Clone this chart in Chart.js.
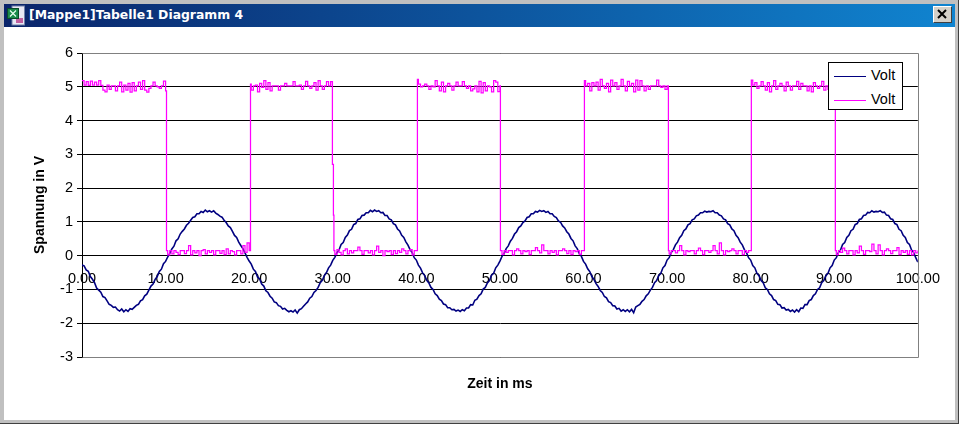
<!DOCTYPE html>
<html>
<head>
<meta charset="utf-8">
<title>Diagramm 4</title>
<script src="https://cdn.jsdelivr.net/npm/chart.js@4"></script>
<style>
  html, body { margin: 0; padding: 0; background: #c0c0c0; overflow: hidden; }
  #win { position: relative; width: 959px; height: 424px; background: #c0c0c0; box-sizing: border-box;
         border-right: 1px solid #404040; border-bottom: 1px solid #404040; }
  #bar { position: absolute; left: 4px; top: 4px; width: 951px; height: 23px;
         background: linear-gradient(90deg, #0a246a, #1084d0); }
  #bar span { position: absolute; left: 25px; top: 3px; color: #fff; font: bold 12.4px "DejaVu Sans", sans-serif; white-space: nowrap; }
  #icon { position: absolute; left: 2px; top: 0; }
  #close { position: absolute; left: 929px; top: 2px; width: 19px; height: 17px; background: #d4d0c8; box-sizing: border-box;
           border: 1px solid; border-color: #fff #404040 #404040 #fff; }
  #close svg { position: absolute; left: 3px; top: 2px; }
  #plot { position: absolute; left: 4px; top: 27px; width: 951px; height: 393px; background: #fff; }
  canvas { position: absolute; left: 0; top: 0; }
  #legend { position: absolute; left: 824px; top: 35px; width: 75px; height: 48px; background: #fff; border: 1px solid #000; box-sizing: border-box;
            font: 14.5px "Liberation Sans", Arial, sans-serif; color: #000; }
  #legend div { position: absolute; left: 42px; white-space: nowrap; }
  #legend i { position: absolute; left: -37px; top: 9px; width: 32px; height: 1px; }
</style>
</head>
<body>
<div id="win">
  <div id="bar">
    <svg id="icon" width="20" height="22" viewBox="0 0 20 22">
      <rect x="6" y="2" width="12.5" height="19" fill="#e8e8f4" stroke="#7080a8"/>
      <rect x="10" y="14" width="7" height="5" fill="#c060a0"/>
      <rect x="1.5" y="4.5" width="11" height="10" fill="#1a8a4a" stroke="#0a4a2a"/>
      <path d="M4 6.5l6 6M10 6.5l-6 6" stroke="#e8fff0" stroke-width="1.2"/>
    </svg>
    <span>[Mappe1]Tabelle1 Diagramm 4</span>
    <div id="close"><svg width="11" height="11" viewBox="0 0 11 11"><path d="M1 1l8 8M9 1l-8 8" stroke="#000" stroke-width="2"/></svg></div>
  </div>
  <div id="plot">
    <canvas id="graph" width="951" height="393"></canvas>
    <div id="legend"></div>
  </div>
</div>
<script>
const seriesNames = ["Volt", "Volt"];
const xAxisTitle = "Zeit in ms";
const yAxisTitle = "Spannung in V";

// sine channel, read every 0.25 ms
const sineTime = [
  0,0.25,0.5,0.75,1,1.25,1.5,1.75,2,2.25,2.5,2.75,3,3.25,3.5,3.75,4,4.25,4.5,4.75,5,5.25,5.5,5.75,6,6.25,6.5,6.75,7,7.25,7.5,7.75,8,8.25,8.5,8.75,9,9.25,9.5,9.75,
  10,10.25,10.5,10.75,11,11.25,11.5,11.75,12,12.25,12.5,12.75,13,13.25,13.5,13.75,14,14.25,14.5,14.75,15,15.25,15.5,15.75,16,16.25,16.5,16.75,17,17.25,17.5,17.75,18,18.25,18.5,18.75,19,19.25,19.5,19.75,
  20,20.25,20.5,20.75,21,21.25,21.5,21.75,22,22.25,22.5,22.75,23,23.25,23.5,23.75,24,24.25,24.5,24.75,25,25.25,25.5,25.75,26,26.25,26.5,26.75,27,27.25,27.5,27.75,28,28.25,28.5,28.75,29,29.25,29.5,29.75,
  30,30.25,30.5,30.75,31,31.25,31.5,31.75,32,32.25,32.5,32.75,33,33.25,33.5,33.75,34,34.25,34.5,34.75,35,35.25,35.5,35.75,36,36.25,36.5,36.75,37,37.25,37.5,37.75,38,38.25,38.5,38.75,39,39.25,39.5,39.75,
  40,40.25,40.5,40.75,41,41.25,41.5,41.75,42,42.25,42.5,42.75,43,43.25,43.5,43.75,44,44.25,44.5,44.75,45,45.25,45.5,45.75,46,46.25,46.5,46.75,47,47.25,47.5,47.75,48,48.25,48.5,48.75,49,49.25,49.5,49.75,
  50,50.25,50.5,50.75,51,51.25,51.5,51.75,52,52.25,52.5,52.75,53,53.25,53.5,53.75,54,54.25,54.5,54.75,55,55.25,55.5,55.75,56,56.25,56.5,56.75,57,57.25,57.5,57.75,58,58.25,58.5,58.75,59,59.25,59.5,59.75,
  60,60.25,60.5,60.75,61,61.25,61.5,61.75,62,62.25,62.5,62.75,63,63.25,63.5,63.75,64,64.25,64.5,64.75,65,65.25,65.5,65.75,66,66.25,66.5,66.75,67,67.25,67.5,67.75,68,68.25,68.5,68.75,69,69.25,69.5,69.75,
  70,70.25,70.5,70.75,71,71.25,71.5,71.75,72,72.25,72.5,72.75,73,73.25,73.5,73.75,74,74.25,74.5,74.75,75,75.25,75.5,75.75,76,76.25,76.5,76.75,77,77.25,77.5,77.75,78,78.25,78.5,78.75,79,79.25,79.5,79.75,
  80,80.25,80.5,80.75,81,81.25,81.5,81.75,82,82.25,82.5,82.75,83,83.25,83.5,83.75,84,84.25,84.5,84.75,85,85.25,85.5,85.75,86,86.25,86.5,86.75,87,87.25,87.5,87.75,88,88.25,88.5,88.75,89,89.25,89.5,89.75,
  90,90.25,90.5,90.75,91,91.25,91.5,91.75,92,92.25,92.5,92.75,93,93.25,93.5,93.75,94,94.25,94.5,94.75,95,95.25,95.5,95.75,96,96.25,96.5,96.75,97,97.25,97.5,97.75,98,98.25,98.5,98.75,99,99.25,99.5,99.75,100
];
const sineVolt = [
  -0.28,-0.30,-0.42,-0.46,-0.62,-0.70,-0.80,-0.96,-1.02,-1.08,-1.21,-1.24,-1.34,-1.44,-1.47,-1.53,-1.52,-1.60,-1.64,-1.58,-1.66,-1.60,-1.65,-1.57,-1.59,-1.53,-1.47,-1.44,-1.34,-1.30,-1.19,-1.14,-1.02,-0.90,-0.84,-0.70,-0.62,-0.47,-0.40,-0.24,
  -0.17,-0.04,0.07,0.20,0.28,0.44,0.50,0.64,0.72,0.79,0.90,0.96,1.05,1.13,1.15,1.24,1.24,1.31,1.28,1.35,1.30,1.33,1.29,1.33,1.26,1.22,1.17,1.14,1.05,0.98,0.88,0.83,0.72,0.60,0.54,0.40,0.30,0.21,0.08,-0.05,
  -0.16,-0.25,-0.40,-0.47,-0.63,-0.69,-0.84,-0.90,-1.04,-1.09,-1.20,-1.26,-1.37,-1.39,-1.48,-1.50,-1.58,-1.56,-1.62,-1.66,-1.63,-1.67,-1.61,-1.70,-1.60,-1.57,-1.50,-1.43,-1.37,-1.26,-1.21,-1.09,-1.03,-0.94,-0.80,-0.73,-0.59,-0.50,-0.36,-0.28,
  -0.14,-0.05,0.09,0.17,0.33,0.39,0.54,0.61,0.74,0.78,0.92,0.95,1.07,1.09,1.19,1.20,1.27,1.27,1.34,1.30,1.35,1.31,1.33,1.27,1.28,1.19,1.19,1.09,1.06,0.95,0.91,0.79,0.73,0.60,0.54,0.41,0.31,0.18,0.09,-0.06,
  -0.13,-0.28,-0.37,-0.51,-0.59,-0.73,-0.81,-0.94,-1.00,-1.13,-1.18,-1.29,-1.33,-1.43,-1.45,-1.54,-1.54,-1.60,-1.59,-1.64,-1.61,-1.65,-1.60,-1.63,-1.55,-1.55,-1.45,-1.46,-1.32,-1.29,-1.18,-1.13,-0.99,-0.94,-0.81,-0.74,-0.58,-0.52,-0.36,-0.28,
  -0.16,-0.02,0.06,0.21,0.29,0.43,0.51,0.64,0.71,0.83,0.88,0.98,1.03,1.13,1.15,1.24,1.24,1.31,1.29,1.34,1.31,1.33,1.28,1.31,1.24,1.24,1.16,1.13,1.03,0.99,0.88,0.82,0.71,0.64,0.51,0.44,0.29,0.21,0.06,-0.02,
  -0.17,-0.25,-0.39,-0.47,-0.62,-0.70,-0.83,-0.91,-1.03,-1.09,-1.21,-1.25,-1.36,-1.39,-1.48,-1.49,-1.58,-1.56,-1.64,-1.60,-1.65,-1.60,-1.66,-1.59,-1.69,-1.52,-1.48,-1.44,-1.35,-1.30,-1.19,-1.13,-1.02,-0.94,-0.80,-0.74,-0.59,-0.52,-0.36,-0.29,
  -0.13,-0.06,0.09,0.18,0.32,0.40,0.53,0.60,0.74,0.79,0.91,0.95,1.06,1.09,1.18,1.20,1.27,1.27,1.32,1.29,1.31,1.30,1.33,1.27,1.27,1.20,1.18,1.09,1.06,0.95,0.91,0.79,0.74,0.60,0.53,0.40,0.32,0.18,0.09,-0.06,
  -0.13,-0.29,-0.36,-0.52,-0.59,-0.74,-0.80,-0.95,-1.00,-1.13,-1.18,-1.30,-1.33,-1.44,-1.45,-1.55,-1.54,-1.61,-1.59,-1.65,-1.61,-1.67,-1.60,-1.66,-1.55,-1.56,-1.45,-1.45,-1.33,-1.30,-1.18,-1.13,-1.00,-0.95,-0.80,-0.74,-0.59,-0.52,-0.36,-0.29,
  -0.13,-0.06,0.09,0.17,0.33,0.39,0.54,0.60,0.74,0.78,0.92,0.95,1.07,1.09,1.19,1.20,1.28,1.27,1.33,1.29,1.31,1.30,1.33,1.28,1.29,1.20,1.19,1.09,1.07,0.95,0.92,0.78,0.74,0.60,0.54,0.39,0.33,0.17,0.09,-0.06,
  -0.19
];

// square channel, read every 0.25 ms, one line per half period
const squareTime = [
  0,0.25,0.5,0.75,1,1.25,1.5,1.75,2,2.25,2.5,2.75,3,3.25,3.5,3.75,4,4.25,4.5,4.75,5,5.25,5.5,5.75,6,6.25,6.5,6.75,7,7.25,7.5,7.75,8,8.25,8.5,8.75,9,9.25,9.5,9.75,10,
  10.11,10.25,10.5,10.75,11,11.25,11.5,11.75,12,12.25,12.5,12.75,13,13.25,13.5,13.75,14,14.25,14.5,14.75,15,15.25,15.5,15.75,16,16.25,16.5,16.75,17,17.25,17.5,17.75,18,18.25,18.5,18.75,19,19.25,19.5,19.75,20,
  20.16,20.25,20.5,20.75,21,21.25,21.5,21.75,22,22.25,22.5,22.75,23,23.25,23.5,23.75,24,24.25,24.5,24.75,25,25.25,25.5,25.75,26,26.25,26.5,26.75,27,27.25,27.5,27.75,28,28.25,28.5,28.75,29,29.25,29.5,29.75,
  29.96,30.08,30.14,30.25,30.5,30.75,31,31.25,31.5,31.75,32,32.25,32.5,32.75,33,33.25,33.5,33.75,34,34.25,34.5,34.75,35,35.25,35.5,35.75,36,36.25,36.5,36.75,37,37.25,37.5,37.75,38,38.25,38.5,38.75,39,39.25,39.5,39.75,40,
  40.13,40.25,40.5,40.75,41,41.25,41.5,41.75,42,42.25,42.5,42.75,43,43.25,43.5,43.75,44,44.25,44.5,44.75,45,45.25,45.5,45.75,46,46.25,46.5,46.75,47,47.25,47.5,47.75,48,48.25,48.5,48.75,49,49.25,49.5,49.75,50,
  50.06,50.25,50.5,50.75,51,51.25,51.5,51.75,52,52.25,52.5,52.75,53,53.25,53.5,53.75,54,54.25,54.5,54.75,55,55.25,55.5,55.75,56,56.25,56.5,56.75,57,57.25,57.5,57.75,58,58.25,58.5,58.75,59,59.25,59.5,59.75,60,
  60.11,60.25,60.5,60.75,61,61.25,61.5,61.75,62,62.25,62.5,62.75,63,63.25,63.5,63.75,64,64.25,64.5,64.75,65,65.25,65.5,65.75,66,66.25,66.5,66.75,67,67.25,67.5,67.75,68,68.25,68.5,68.75,69,69.25,69.5,69.75,70,
  70.16,70.25,70.5,70.75,71,71.25,71.5,71.75,72,72.25,72.5,72.75,73,73.25,73.5,73.75,74,74.25,74.5,74.75,75,75.25,75.5,75.75,76,76.25,76.5,76.75,77,77.25,77.5,77.75,78,78.25,78.5,78.75,79,79.25,79.5,79.75,80,
  80.08,80.25,80.5,80.75,81,81.25,81.5,81.75,82,82.25,82.5,82.75,83,83.25,83.5,83.75,84,84.25,84.5,84.75,85,85.25,85.5,85.75,86,86.25,86.5,86.75,87,87.25,87.5,87.75,88,88.25,88.5,88.75,89,89.25,89.5,89.75,90,
  90.13,90.25,90.5,90.75,91,91.25,91.5,91.75,92,92.25,92.5,92.75,93,93.25,93.5,93.75,94,94.25,94.5,94.75,95,95.25,95.5,95.75,96,96.25,96.5,96.75,97,97.25,97.5,97.75,98,98.25,98.5,98.75,99,99.25,99.5,99.75,100
];
const squareVolt = [
  5.18,5.05,5.15,5.04,5.17,5.05,5.14,5.05,5.18,5.04,4.90,4.85,5.05,4.92,5.03,5.03,4.88,5.03,5.14,4.85,5.05,4.90,5.10,4.84,5.12,4.88,5.03,5.14,4.92,5.18,4.90,4.84,4.95,5.03,5.14,5.03,5.00,4.95,5.03,5.17,4.88,
  0.15,0.02,0.15,0.05,0.15,0.10,0.03,0.15,0.15,0.06,0.15,0.30,0.02,0.15,0.08,0.15,0.00,0.15,0.18,0.05,0.15,0.10,0.15,0.02,0.15,0.15,0.07,0.15,0.03,0.20,0.05,0.15,0.12,0.02,0.15,0.15,0.05,0.30,0.10,0.38,0.15,
  5.08,4.90,5.03,5.05,4.85,5.10,4.98,5.18,4.92,5.12,4.88,5.03,5.03,5.03,4.90,5.03,5.03,5.10,5.03,5.03,5.03,5.15,5.03,5.03,5.05,4.92,5.03,5.16,5.03,4.95,5.03,5.12,4.90,5.18,5.03,4.92,5.03,5.15,5.03,5.15,
  2.70,1.20,0.15,0.04,0.18,0.10,0.02,0.15,0.20,0.05,0.15,0.08,0.15,0.15,0.25,0.15,0.04,0.15,0.15,0.08,0.15,0.02,0.15,0.28,0.10,0.15,0.00,0.15,0.12,0.15,0.03,0.15,0.06,0.15,0.10,0.20,0.15,0.05,0.15,0.18,0.02,0.15,0.15,
  5.22,5.08,5.00,5.03,5.08,5.03,4.92,5.03,5.00,5.18,5.03,4.88,5.14,4.85,5.03,5.10,5.03,4.90,5.03,5.14,5.03,5.03,5.15,5.03,4.95,5.03,4.88,4.94,5.03,4.85,5.16,4.82,5.12,4.88,5.03,5.00,4.85,5.18,5.14,4.86,5.03,
  0.15,0.04,0.15,0.10,0.15,0.15,0.02,0.15,0.20,0.15,0.05,0.15,0.12,0.15,0.03,0.15,0.15,0.24,0.15,0.08,0.32,0.15,0.15,0.05,0.15,0.10,0.15,0.02,0.15,0.15,0.20,0.15,0.06,0.15,0.03,0.15,0.12,0.15,0.04,0.15,0.15,
  5.18,5.03,5.10,4.88,5.12,5.03,5.14,4.90,5.22,5.03,4.95,5.10,4.85,5.20,5.03,5.12,4.92,5.03,5.22,5.03,4.88,5.16,5.03,5.10,4.85,5.20,4.90,5.18,5.03,4.88,5.03,4.92,5.03,5.03,5.03,5.20,5.03,4.98,5.03,4.92,5.03,
  0.15,0.05,0.15,0.15,0.08,0.15,0.30,0.15,0.02,0.15,0.12,0.15,0.15,0.05,0.15,0.22,0.15,0.03,0.15,0.15,0.10,0.15,0.30,0.15,0.05,0.38,0.15,0.02,0.15,0.12,0.15,0.20,0.15,0.05,0.15,0.15,0.03,0.15,0.10,0.15,0.15,
  5.20,5.05,5.12,4.95,5.03,5.15,5.03,4.90,5.12,4.85,5.03,5.18,4.92,5.03,5.10,5.03,4.88,5.14,5.03,4.90,5.03,5.03,5.16,4.92,5.10,5.03,5.03,4.88,5.03,4.85,5.12,5.03,4.95,5.03,5.16,4.90,5.03,4.92,5.10,5.03,4.90,
  0.15,0.03,0.15,0.10,0.22,0.15,0.05,0.15,0.15,0.02,0.15,0.08,0.28,0.15,0.04,0.15,0.15,0.12,0.34,0.15,0.05,0.32,0.15,0.02,0.15,0.20,0.15,0.06,0.15,0.15,0.24,0.03,0.15,0.10,0.15,0.04,0.15,0.02,0.15,0.08,0.15
];

const canvas = document.getElementById("graph");

// excel draws a grey frame over the top, right and bottom of the plot
const plotFrame = {
  id: "plotFrame",
  beforeDatasetsDraw(chart) {
    const { ctx, chartArea: a } = chart;
    ctx.save();
    ctx.strokeStyle = "#808080";
    ctx.lineWidth = 1;
    ctx.beginPath();
    ctx.moveTo(a.left + 0.5, Math.round(a.top) + 0.5);
    ctx.lineTo(Math.round(a.right) + 0.5, Math.round(a.top) + 0.5);
    ctx.lineTo(Math.round(a.right) + 0.5, Math.round(a.bottom) + 0.5);
    ctx.lineTo(a.left + 0.5, Math.round(a.bottom) + 0.5);
    ctx.stroke();
    ctx.restore();
  }
};

const labelFont = { family: '"Liberation Sans", Arial, sans-serif', size: 14.5 };
const titleFont = { family: '"Liberation Sans", Arial, sans-serif', size: 14, weight: "bold" };

const chart = new Chart(canvas.getContext("2d"), {
  type: "line",
  data: {
    datasets: [
      {
        label: seriesNames[0],
        data: sineTime.map((t, i) => ({ x: t, y: sineVolt[i] })),
        borderColor: "#000080",
        borderWidth: 1.6,
        order: 1
      },
      {
        label: seriesNames[1],
        data: squareTime.map((t, i) => ({ x: t, y: squareVolt[i] })),
        borderColor: "#ff00ff",
        borderWidth: 1.25,
        stepped: true,
        order: 0
      }
    ]
  },
  options: {
    responsive: false,
    animation: false,
    devicePixelRatio: 1,
    parsing: false,
    elements: { point: { radius: 0 }, line: { tension: 0 } },
    layout: { padding: { top: 26, right: 37, left: 0, bottom: 0 } },
    plugins: { legend: { display: false }, tooltip: { enabled: false } },
    scales: {
      x: {
        type: "linear",
        position: { y: 0 },
        min: 0,
        max: 100,
        grid: { display: false, drawTicks: false },
        border: { display: false },
        ticks: {
          stepSize: 10,
          autoSkip: false,
          maxRotation: 0,
          padding: 15,
          color: "#000",
          font: labelFont,
          callback: v => v.toFixed(2)
        }
      },
      // only carries the title below the plot
      xTitle: {
        type: "linear",
        axis: "x",
        position: "bottom",
        min: 0,
        max: 100,
        grid: { display: false },
        border: { display: false },
        ticks: { display: false },
        title: { display: true, text: xAxisTitle, color: "#000", font: titleFont, padding: { top: 0, bottom: 27 } },
        afterFit(scale) { scale.height = 63; }
      },
      y: {
        type: "linear",
        min: -3,
        max: 6,
        grid: { color: "#000", lineWidth: 1, tickLength: 5, tickColor: "#000" },
        border: { display: true, color: "#000", width: 1 },
        ticks: { stepSize: 1, padding: 4, color: "#000", font: labelFont },
        title: { display: true, text: yAxisTitle, color: "#000", font: titleFont, padding: { top: 28, bottom: 0 } },
        afterFit(scale) { scale.width = 78; }
      }
    }
  },
  plugins: [plotFrame]
});

// legend sits inside the plot, over the gridlines
const legend = document.getElementById("legend");
chart.data.datasets.forEach((ds, i) => {
  const row = document.createElement("div");
  row.style.top = (i === 0 ? 4 : 28) + "px";
  row.textContent = ds.label;
  const swatch = document.createElement("i");
  swatch.style.background = ds.borderColor;
  row.appendChild(swatch);
  legend.appendChild(row);
});
</script>
</body>
</html>
